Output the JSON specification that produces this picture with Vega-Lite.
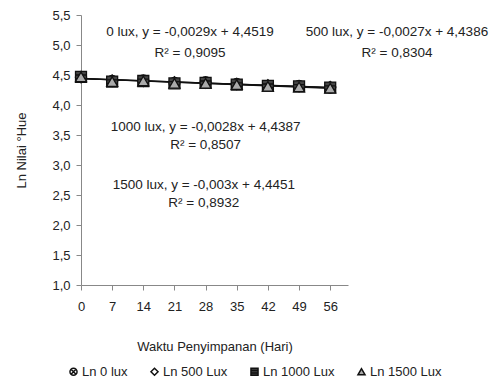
{
  "$schema": "https://vega.github.io/schema/vega-lite/v6.json",
  "width": 267,
  "height": 270,
  "autosize": {"type": "none"},
  "padding": {"left": 81, "top": 15, "right": 154, "bottom": 96},
  "background": "white",
  "config": {
    "locale": {"number": {"decimal": ",", "thousands": ".", "grouping": [3], "currency": ["", ""]}},
    "view": {"stroke": null},
    "font": "Liberation Sans",
    "axis": {"grid": false, "domainColor": "#888", "tickColor": "#888", "labelColor": "#222", "titleColor": "#222", "labelFontSize": 13, "titleFontSize": 13, "titleFontWeight": "normal", "tickSize": 5}
  },
  "datasets": {
    "obs": [
      {"hari": 0, "ln": 4.47, "seri": "Ln 0 lux"},
      {"hari": 7, "ln": 4.40, "seri": "Ln 0 lux"},
      {"hari": 14, "ln": 4.41, "seri": "Ln 0 lux"},
      {"hari": 21, "ln": 4.37, "seri": "Ln 0 lux"},
      {"hari": 28, "ln": 4.38, "seri": "Ln 0 lux"},
      {"hari": 35, "ln": 4.35, "seri": "Ln 0 lux"},
      {"hari": 42, "ln": 4.32, "seri": "Ln 0 lux"},
      {"hari": 49, "ln": 4.32, "seri": "Ln 0 lux"},
      {"hari": 56, "ln": 4.29, "seri": "Ln 0 lux"},
      {"hari": 0, "ln": 4.46, "seri": "Ln 500 Lux"},
      {"hari": 7, "ln": 4.41, "seri": "Ln 500 Lux"},
      {"hari": 14, "ln": 4.40, "seri": "Ln 500 Lux"},
      {"hari": 21, "ln": 4.38, "seri": "Ln 500 Lux"},
      {"hari": 28, "ln": 4.37, "seri": "Ln 500 Lux"},
      {"hari": 35, "ln": 4.35, "seri": "Ln 500 Lux"},
      {"hari": 42, "ln": 4.33, "seri": "Ln 500 Lux"},
      {"hari": 49, "ln": 4.31, "seri": "Ln 500 Lux"},
      {"hari": 56, "ln": 4.30, "seri": "Ln 500 Lux"},
      {"hari": 0, "ln": 4.47, "seri": "Ln 1000 Lux"},
      {"hari": 7, "ln": 4.39, "seri": "Ln 1000 Lux"},
      {"hari": 14, "ln": 4.40, "seri": "Ln 1000 Lux"},
      {"hari": 21, "ln": 4.36, "seri": "Ln 1000 Lux"},
      {"hari": 28, "ln": 4.37, "seri": "Ln 1000 Lux"},
      {"hari": 35, "ln": 4.34, "seri": "Ln 1000 Lux"},
      {"hari": 42, "ln": 4.32, "seri": "Ln 1000 Lux"},
      {"hari": 49, "ln": 4.31, "seri": "Ln 1000 Lux"},
      {"hari": 56, "ln": 4.29, "seri": "Ln 1000 Lux"},
      {"hari": 0, "ln": 4.47, "seri": "Ln 1500 Lux"},
      {"hari": 7, "ln": 4.39, "seri": "Ln 1500 Lux"},
      {"hari": 14, "ln": 4.40, "seri": "Ln 1500 Lux"},
      {"hari": 21, "ln": 4.36, "seri": "Ln 1500 Lux"},
      {"hari": 28, "ln": 4.36, "seri": "Ln 1500 Lux"},
      {"hari": 35, "ln": 4.34, "seri": "Ln 1500 Lux"},
      {"hari": 42, "ln": 4.31, "seri": "Ln 1500 Lux"},
      {"hari": 49, "ln": 4.30, "seri": "Ln 1500 Lux"},
      {"hari": 56, "ln": 4.28, "seri": "Ln 1500 Lux"}
    ],
    "notes": [
      {"label": "0 lux,  y = -0,0029x + 4,4519", "hari": 24.5, "ln": 5.22},
      {"label": "R² = 0,9095", "hari": 24.5, "ln": 4.87},
      {"label": "500 lux,  y = -0,0027x + 4,4386", "hari": 71, "ln": 5.22},
      {"label": "R² = 0,8304", "hari": 71, "ln": 4.87},
      {"label": "1000 lux,  y = -0,0028x + 4,4387", "hari": 28, "ln": 3.63},
      {"label": "R² = 0,8507", "hari": 28, "ln": 3.33},
      {"label": "1500 lux,  y = -0,003x + 4,4451", "hari": 27.6, "ln": 2.67},
      {"label": "R² = 0,8932", "hari": 27.6, "ln": 2.37}
    ]
  },
  "encoding": {
    "x": {"field": "hari", "type": "quantitative", "scale": {"domain": [0, 60], "nice": false},
      "axis": {"values": [0, 7, 14, 21, 28, 35, 42, 49, 56], "format": "d", "labelOverlap": false, "labelBound": false, "labelFlush": false, "labelPadding": 10, "title": "Waktu Penyimpanan  (Hari)", "titlePadding": 27}},
    "y": {"field": "ln", "type": "quantitative", "scale": {"domain": [1, 5.5], "nice": false, "zero": false},
      "axis": {"values": [1, 1.5, 2, 2.5, 3, 3.5, 4, 4.5, 5, 5.5], "format": ".1f", "labelOverlap": false, "labelBound": false, "labelFlush": false, "labelPadding": 6, "title": "Ln Nilai °Hue", "titlePadding": 23}}
  },
  "layer": [
    {
      "data": {"name": "obs"},
      "transform": [{"regression": "ln", "on": "hari", "groupby": ["seri"], "extent": [0, 56]}],
      "mark": {"type": "line", "color": "#111", "strokeWidth": 1.2},
      "encoding": {
        "detail": {"field": "seri"}
      }
    },
    {
      "data": {"name": "obs"},
      "mark": {"type": "point", "filled": true, "stroke": "#111", "strokeWidth": 1.3, "opacity": 1, "size": 120},
      "encoding": {
        "shape": {"field": "seri", "type": "nominal",
          "scale": {"domain": ["Ln 0 lux", "Ln 500 Lux", "Ln 1000 Lux", "Ln 1500 Lux"],
            "range": ["M-1,0A1,1 0 1,1 1,0A1,1 0 1,1 -1,0ZM-0.7,-0.7L0.7,0.7M-0.7,0.7L0.7,-0.7", "diamond", "M-1,-1H1V1H-1ZM-1,-0.33H1M-1,0.33H1", "triangle-up"]},
          "legend": {"orient": "none", "legendX": -14, "legendY": 350, "direction": "horizontal", "columns": 4, "title": null, "labelFontSize": 13, "labelColor": "#222", "symbolSize": 50, "columnPadding": 19, "labelOffset": 2,
            "encode": {"symbols": {"update": {"stroke": {"value": "#111"}, "strokeWidth": {"value": 1.3}}}}}},
        "fill": {"field": "seri", "type": "nominal",
          "scale": {"domain": ["Ln 0 lux", "Ln 500 Lux", "Ln 1000 Lux", "Ln 1500 Lux"], "range": ["#ffffff", "#ffffff", "#444444", "#aaaaaa"]},
          "legend": {"orient": "none", "legendX": -14, "legendY": 350, "direction": "horizontal", "columns": 4, "title": null, "labelFontSize": 13, "labelColor": "#222", "symbolSize": 50, "columnPadding": 19, "labelOffset": 2,
            "encode": {"symbols": {"update": {"stroke": {"value": "#111"}, "strokeWidth": {"value": 1.3}}}}}}
      }
    },
    {
      "data": {"name": "notes"},
      "mark": {"type": "text", "font": "Liberation Sans", "fontSize": 13.5, "color": "#222", "clip": false},
      "encoding": {
        "text": {"field": "label"}
      }
    }
  ]
}
